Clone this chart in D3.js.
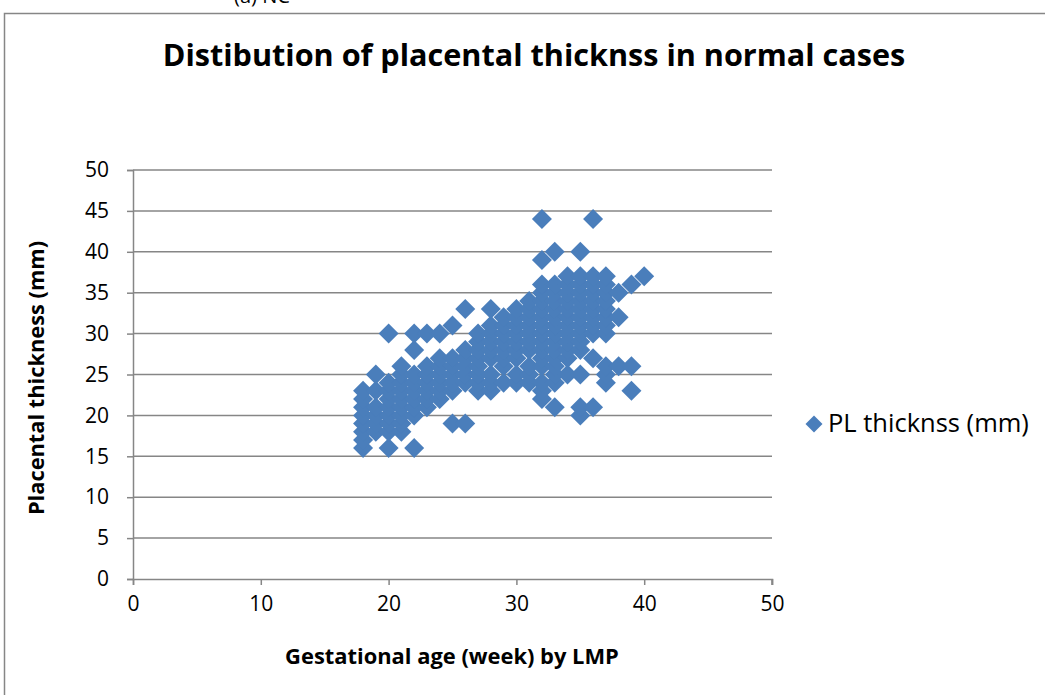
<!DOCTYPE html>
<html>
<head>
<meta charset="utf-8">
<script src="https://cdn.jsdelivr.net/npm/d3@7"></script>
<style>
  body { margin: 0; background: #fff; }
  svg text { font-family: "Open Sans", "Liberation Sans", sans-serif; fill: #000; }
</style>
</head>
<body>
<div id="chart"></div>
<script>
// chart data: gestational age (weeks) and the thickness readings seen at each week
const weeks = [18, 19, 20, 21, 22, 23, 24, 25, 26, 27, 28, 29, 30, 31, 32, 33, 34, 35, 36, 37, 38, 39, 40];
const thicknessByWeek = [
    [16, 17, 18, 19, 20, 21, 22, 23],
    [18, 19, 20, 21, 23, 25],
    [16, 18, 19, 20, 21, 22, 23, 24, 30],
    [18, 19, 20, 21, 22, 23, 24, 25, 26],
    [16, 20, 21, 22, 23, 24, 25, 28, 30],
    [21, 22, 23, 24, 25, 26, 30],
    [22, 23, 24, 25, 26, 27, 30],
    [19, 23, 24, 25, 26, 27, 31],
    [19, 24, 25, 26, 27, 28, 33],
    [23, 24, 25, 26, 27, 28, 29, 30],
    [23, 24, 25, 27, 28, 29, 30, 31, 33],
    [24, 26, 27, 28, 29, 30, 31, 32],
    [24, 25, 27, 28, 29, 30, 31, 32, 33],
    [24, 25, 26, 28, 29, 30, 31, 32, 33, 34],
    [22, 23, 24, 26, 27, 28, 29, 30, 31, 32, 33, 34, 35, 36, 39, 44],
    [21, 24, 25, 26, 27, 28, 29, 30, 31, 32, 33, 34, 35, 36, 40],
    [25, 27, 28, 29, 30, 31, 32, 33, 34, 35, 36, 37],
    [20, 21, 25, 28, 29, 30, 31, 32, 33, 34, 35, 36, 37, 40],
    [21, 27, 30, 31, 32, 33, 34, 35, 36, 37, 44],
    [24, 25, 26, 30, 31, 32, 33, 34, 35, 36, 37],
    [26, 32, 35],
    [23, 26, 36],
    [37]
];
const xTicks = [0, 10, 20, 30, 40, 50];
const yTicks = [0, 5, 10, 15, 20, 25, 30, 35, 40, 45, 50];
const seriesName = "PL thicknss (mm)";

const points = [];
weeks.forEach((w, i) => {
    thicknessByWeek[i].forEach(t => points.push({ age: w, thick: t }));
});

// 1: SIZES
const W = 1045, H = 695;
const plot = { left: 133, right: 772, top: 170, bottom: 579 };
const blue = "#4a7ebb";
const gridColor = "#868686";

const svg = d3.select("#chart").append("svg")
    .attr("width", W)
    .attr("height", H);

// scale a text's font so it spans the width measured on the reference
function fitWidth(sel, target) {
    const size = parseFloat(sel.attr("font-size"));
    const w = sel.node().getComputedTextLength();
    sel.attr("font-size", (size * target / w).toFixed(1) + "px");
}

// outer chart border (runs off the right and bottom edge)
svg.append("rect")
    .attr("x", 4.5).attr("y", 13.5)
    .attr("width", W + 20).attr("height", H + 20)
    .attr("fill", "#fff")
    .attr("stroke", "#868686")
    .attr("stroke-width", 1.5);

// caption above the chart, cut off by the top edge as in the source
svg.append("text")
    .attr("x", 262).attr("y", 3)
    .attr("text-anchor", "middle")
    .attr("font-size", "20px")
    .text("(a) NC");

// 2: SCALES
const x = d3.scaleLinear().domain([0, 50]).range([plot.left, plot.right]);
const y = d3.scaleLinear().domain([0, 50]).range([plot.bottom, plot.top]);

// gridlines
svg.append("g")
    .selectAll("line")
    .data(yTicks.filter(d => d > 0))
    .enter().append("line")
    .attr("x1", plot.left).attr("x2", plot.right)
    .attr("y1", d => y(d)).attr("y2", d => y(d))
    .attr("stroke", gridColor)
    .attr("stroke-width", 1.5);

// 3: AXES
const yAxis = svg.append("g")
    .attr("transform", `translate(${plot.left},0)`)
    .call(d3.axisLeft(y).tickValues(yTicks).tickSize(6).tickPadding(18));
const xAxis = svg.append("g")
    .attr("transform", `translate(0,${plot.bottom})`)
    .call(d3.axisBottom(x).tickValues(xTicks).tickSize(6).tickPadding(11));

[xAxis, yAxis].forEach(a => {
    a.select(".domain").attr("stroke", gridColor).attr("stroke-width", 1.5);
    a.selectAll(".tick line").attr("stroke", gridColor).attr("stroke-width", 1.5);
    a.selectAll(".tick text")
        .attr("font-size", "21px")
        .attr("font-family", "'Open Sans', sans-serif")
        .attr("fill", "#000");
});
// right end tick of x axis
svg.append("line")
    .attr("x1", x(50)).attr("x2", x(50))
    .attr("y1", plot.bottom).attr("y2", plot.bottom + 6)
    .attr("stroke", gridColor).attr("stroke-width", 1.5);

// 4: POINTS
const diamond = s => `M0,${-s}L${s},0L0,${s}L${-s},0Z`;
svg.append("g")
    .selectAll("path")
    .data(points)
    .enter().append("path")
    .attr("d", diamond(10))
    .attr("transform", d => `translate(${x(d.age)},${y(d.thick)})`)
    .attr("fill", blue);

// 5: LABELS
const title = svg.append("text")
    .attr("x", 534).attr("y", 66)
    .attr("text-anchor", "middle")
    .attr("font-size", "28px")
    .attr("font-weight", "bold")
    .text("Distibution of placental thicknss in normal cases");
fitWidth(title, 743);

const xTitle = svg.append("text")
    .attr("x", 452).attr("y", 664)
    .attr("text-anchor", "middle")
    .attr("font-size", "20px")
    .attr("font-weight", "bold")
    .text("Gestational age (week) by LMP");
fitWidth(xTitle, 334);

const yTitle = svg.append("text")
    .attr("transform", "translate(44,378) rotate(-90)")
    .attr("text-anchor", "middle")
    .attr("font-size", "20px")
    .attr("font-weight", "bold")
    .text("Placental thickness (mm)");
fitWidth(yTitle, 274);

// legend
svg.append("path")
    .attr("d", diamond(8.5))
    .attr("transform", "translate(814,424)")
    .attr("fill", blue);
const legendText = svg.append("text")
    .attr("x", 828).attr("y", 432)
    .attr("font-size", "20px")
    .text(seriesName);
fitWidth(legendText, 201);
</script>
</body>
</html>
